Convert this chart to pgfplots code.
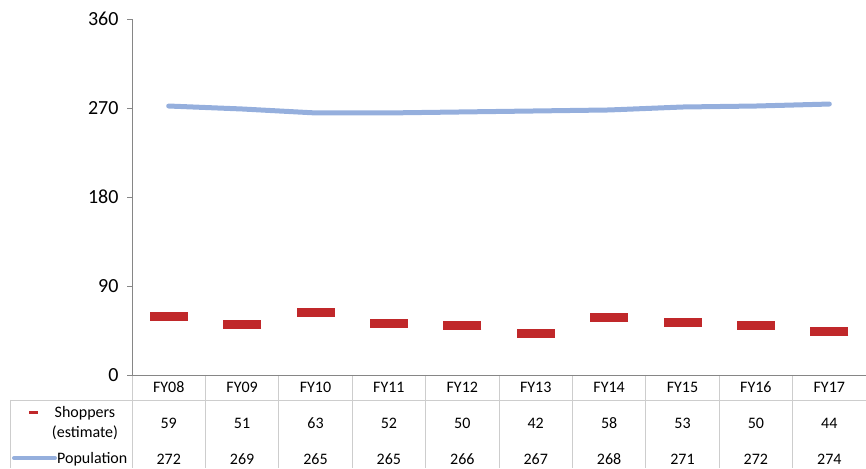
\documentclass[border=0pt]{standalone}
\usepackage{pgfplots}
\pgfplotsset{compat=1.18}
\usepackage{fontspec}
\setmainfont{Carlito}
\definecolor{shopred}{HTML}{C0282A}
\definecolor{popblue}{HTML}{95AFDD}
\definecolor{axgray}{HTML}{868686}
\definecolor{tblgray}{HTML}{CDCDCD}
\pgfplotstableread{
x shop pop
0 59 272
1 51 269
2 63 265
3 52 265
4 50 266
5 42 267
6 58 268
7 53 271
8 50 272
9 44 274
}\datatab
\begin{document}
\begin{tikzpicture}[x=1pt,y=1pt]
\useasboundingbox (0,0) rectangle (866,468);
% table grid
\foreach \k in {1,...,9} \draw[tblgray,line width=0.8pt] ({132+73.4*\k},93) -- ({132+73.4*\k},0);
\draw[tblgray,line width=0.8pt] (132,93) -- (132,0);
\draw[tblgray,line width=0.8pt] (10,68) -- (866,68);
\draw[tblgray,line width=0.8pt] (10,68) -- (10,0);
\begin{axis}[at={(132pt,93pt)}, anchor=south west, scale only axis,
  width=734pt, height=356pt,
  xmin=-0.5, xmax=9.5, ymin=0, ymax=360,
  ytick={0,90,...,360}, xtick=\empty,
  axis lines*=left,
  axis line style={axgray, line width=0.9pt},
  tick style={axgray, line width=0.9pt},
  major tick length=5pt, tick align=outside,
  yticklabel style={font=\fontsize{20}{20}\selectfont},
  yticklabel shift=5pt,
  /pgf/number format/assume math mode=true,
  clip=false]
\addplot[popblue, line width=5pt, line cap=round, line join=round] table[x=x,y=pop] {\datatab};
\addplot[only marks, mark=-, mark size=19pt, mark options={shopred, line width=9pt, line cap=butt}] table[x=x,y=shop] {\datatab};
\end{axis}
\begin{scope}[every node/.style={font=\fontsize{16}{16}\selectfont}]
\foreach \i/\c/\s/\p in {0/FY08/59/272,1/FY09/51/269,2/FY10/63/265,3/FY11/52/265,4/FY12/50/266,5/FY13/42/267,6/FY14/58/268,7/FY15/53/271,8/FY16/50/272,9/FY17/44/274} {
  \pgfmathsetmacro\xc{132+73.4*(\i+0.5)}
  \node at (\xc,81) {\c};
  \node at (\xc,45) {\s};
  \node at (\xc,9) {\p};
}
\node at (85,55) {Shoppers};
\node at (85,35) {(estimate)};
\node[anchor=west,inner sep=0pt] at (57,9) {Population};
\end{scope}
\draw[shopred,line width=3pt] (29,55) -- (38,55);
\draw[popblue,line width=4pt,line cap=round] (14,10) -- (55,10);
\end{tikzpicture}
\end{document}
